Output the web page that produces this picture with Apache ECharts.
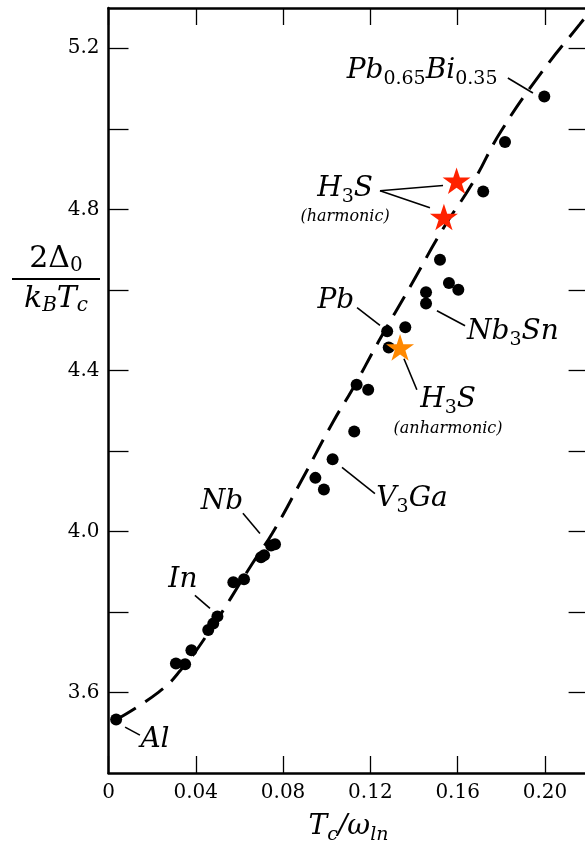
<!DOCTYPE html>
<html>
<head>
<meta charset="utf-8">
<script src="https://cdn.jsdelivr.net/npm/echarts@6/dist/echarts.min.js"></script>
<style>
html, body { margin: 0; padding: 0; background: #fff; }
#main { width: 585px; height: 845px; }
</style>
</head>
<body>
<div id="main"></div>
<script>
// Tc/ω_ln of the conventional superconductors (black dots)
var metalX = [0.0035, 0.0309, 0.0351, 0.0380, 0.0457, 0.0480, 0.0499, 0.0572, 0.0621,
  0.0699, 0.0713, 0.0745, 0.0763, 0.0948, 0.0987, 0.1027, 0.1126, 0.1137, 0.1190,
  0.1277, 0.1284, 0.1360, 0.1455, 0.1455, 0.1519, 0.1560, 0.1603, 0.1717, 0.1817, 0.1997];
// 2Δ0/kBTc of the same materials
var metalY = [3.533, 3.672, 3.670, 3.705, 3.755, 3.771, 3.789, 3.874, 3.881,
  3.936, 3.941, 3.965, 3.968, 4.133, 4.104, 4.179, 4.248, 4.364, 4.352,
  4.497, 4.457, 4.507, 4.594, 4.566, 4.675, 4.617, 4.600, 4.844, 4.967, 5.080];

// H3S, harmonic (red stars) and anharmonic (orange star)
var harmonicX = [0.1537, 0.1595];
var harmonicY = [4.781, 4.871];
var anharmonicX = [0.1336];
var anharmonicY = [4.457];

// dashed fit curve
var fitX = [0.004, 0.023, 0.033, 0.046, 0.066, 0.075, 0.088, 0.103, 0.112, 0.124,
  0.139, 0.153, 0.167, 0.180, 0.199, 0.216, 0.220];
var fitY = [3.534, 3.601, 3.655, 3.750, 3.921, 3.995, 4.122, 4.273, 4.355, 4.474,
  4.615, 4.749, 4.867, 4.995, 5.144, 5.260, 5.287];

// ticks
var xTicks = [0, 0.04, 0.08, 0.12, 0.16, 0.20];
var yTicks = [3.6, 3.8, 4.0, 4.2, 4.4, 4.6, 4.8, 5.0, 5.2];
var yLabels = [3.6, 4.0, 4.4, 4.8, 5.2];

// labels (text, centre in data units) and their leader lines
var labelText = [
  '{m|Pb}{s|0.65}{m|Bi}{s|0.35}',
  '{m|H}{s|3}{m|S}\n{p|(harmonic)}',
  '{m|Pb}',
  '{m|Nb}{s|3}{m|Sn}',
  '{m|H}{s|3}{m|S}\n{p|(anharmonic)}',
  '{m|V}{s|3}{m|Ga}',
  '{m|Nb}',
  '{m|In}',
  '{m|Al}'
];
var labelAt = [
  [0.1437, 5.144], [0.1084, 4.825], [0.1042, 4.573], [0.1853, 4.496], [0.1556, 4.300],
  [0.1391, 4.082], [0.0520, 4.075], [0.0341, 3.879], [0.0213, 3.482]
];
var leaders = [
  [[0.1830, 5.126], [0.1945, 5.089]],
  [[0.1244, 4.846], [0.1533, 4.859]],
  [[0.1244, 4.846], [0.1473, 4.804]],
  [[0.1139, 4.556], [0.1244, 4.512]],
  [[0.1505, 4.548], [0.1634, 4.511]],
  [[0.1354, 4.429], [0.1413, 4.352]],
  [[0.1070, 4.159], [0.1221, 4.094]],
  [[0.0616, 4.045], [0.0694, 3.995]],
  [[0.0396, 3.841], [0.0465, 3.809]],
  [[0.0076, 3.514], [0.0144, 3.494]]
];

function pairs(xs, ys) {
  return xs.map(function (x, i) { return [x, ys[i]]; });
}

var FONT = 'DejaVu Serif';
var star = 'path://M100,0 L122.45,69.1 L195.1,69.1 L136.3,111.8 L158.8,180.9 L100,138.2 L41.2,180.9 L63.7,111.8 L4.9,69.1 L77.55,69.1 Z';

var rich = {
  m: { fontFamily: FONT, fontStyle: 'italic', fontSize: 28, lineHeight: 36, color: '#000', verticalAlign: 'middle' },
  s: { fontFamily: FONT, fontSize: 19, lineHeight: 19, color: '#000', verticalAlign: 'bottom' },
  si: { fontFamily: FONT, fontStyle: 'italic', fontSize: 19, lineHeight: 19, color: '#000', verticalAlign: 'bottom' },
  p: { fontFamily: FONT, fontStyle: 'italic', fontSize: 16, lineHeight: 22, color: '#000' }
};

var myChart = echarts.init(document.getElementById('main'));

var axisLine = { show: true, onZero: false, lineStyle: { color: '#000', width: 2.5 } };

var option = {
  animation: false,
  backgroundColor: '#fff',
  grid: { left: 108.5, top: 8, right: -3.6, bottom: 72, outerBoundsMode: 'none' },
  xAxis: [{
    type: 'value', position: 'bottom', min: 0, max: 0.22,
    axisLine: axisLine,
    axisTick: { inside: true, length: 17, customValues: xTicks, lineStyle: { color: '#000', width: 1.3 } },
    axisLabel: {
      customValues: xTicks, margin: 10, color: '#000', fontFamily: FONT, fontSize: 20,
      formatter: function (v) { return v === 0 ? '0' : v.toFixed(2); }
    },
    splitLine: { show: false },
    name: '{m|T}{si|c}{m|/ω}{si|ln}', nameLocation: 'middle', nameGap: 36,
    nameTextStyle: { rich: rich }
  }, {
    type: 'value', position: 'top', min: 0, max: 0.22,
    axisLine: axisLine,
    axisTick: { inside: true, length: 17, customValues: xTicks, lineStyle: { color: '#000', width: 1.3 } },
    axisLabel: { show: false },
    splitLine: { show: false }
  }],
  yAxis: [{
    type: 'value', position: 'left', min: 3.4, max: 5.3,
    axisLine: axisLine,
    axisTick: { inside: true, length: 20, customValues: yTicks, lineStyle: { color: '#000', width: 1.3 } },
    axisLabel: {
      customValues: yLabels, margin: 9, color: '#000', fontFamily: FONT, fontSize: 20,
      formatter: function (v) { return v.toFixed(1); }
    },
    splitLine: { show: false }
  }, {
    type: 'value', position: 'right', min: 3.4, max: 5.3,
    axisLine: axisLine,
    axisTick: { inside: true, length: 20, customValues: yTicks, lineStyle: { color: '#000', width: 1.3 } },
    axisLabel: { show: false },
    splitLine: { show: false }
  }],
  graphic: [{
    type: 'text', x: 56, y: 279,
    style: {
      text: '{n|2Δ}{ns|0}\n{bar|}\n{d|k}{ds|B}{d|T}{ds|c}',
      align: 'center', verticalAlign: 'middle',
      rich: {
        n: { fontFamily: FONT, fontSize: 30, lineHeight: 34, verticalAlign: 'middle', fill: '#000' },
        ns: { fontFamily: FONT, fontSize: 20, lineHeight: 20, verticalAlign: 'bottom', fill: '#000' },
        bar: { width: 88, height: 2, lineHeight: 6, backgroundColor: '#000' },
        d: { fontFamily: FONT, fontStyle: 'italic', fontSize: 30, lineHeight: 34, verticalAlign: 'middle', fill: '#000' },
        ds: { fontFamily: FONT, fontStyle: 'italic', fontSize: 20, lineHeight: 20, verticalAlign: 'bottom', fill: '#000' }
      }
    }
  }],
  series: [{
    type: 'line',
    data: pairs(fitX, fitY),
    smooth: true,
    showSymbol: false,
    silent: true,
    lineStyle: { color: '#000', width: 3, type: [22, 11] },
    z: 1,
    markLine: {
      silent: true,
      symbol: ['none', 'none'],
      label: { show: false },
      lineStyle: { color: '#000', width: 1.6, type: 'solid' },
      data: leaders.map(function (l) { return [{ coord: l[0] }, { coord: l[1] }]; })
    },
    markPoint: {
      silent: true,
      symbol: 'circle',
      symbolSize: 0,
      label: {
        show: true, position: 'inside', color: '#000', rich: rich,
        formatter: function (p) { return p.name; }
      },
      data: labelText.map(function (t, i) { return { name: t, coord: labelAt[i] }; })
    }
  }, {
    type: 'scatter',
    data: pairs(metalX, metalY),
    symbol: 'circle',
    symbolSize: 12,
    itemStyle: { color: '#000', opacity: 1 },
    z: 3
  }, {
    type: 'scatter',
    data: pairs(harmonicX, harmonicY),
    symbol: star,
    symbolKeepAspect: true,
    symbolSize: 28,
    itemStyle: { color: '#ff2200', opacity: 1 },
    z: 4
  }, {
    type: 'scatter',
    data: pairs(anharmonicX, anharmonicY),
    symbol: star,
    symbolKeepAspect: true,
    symbolSize: 28,
    itemStyle: { color: '#ff8800', opacity: 1 },
    z: 4
  }]
};

myChart.setOption(option);

window.addEventListener('resize', function () {
  myChart.resize();
});
</script>
</body>
</html>
